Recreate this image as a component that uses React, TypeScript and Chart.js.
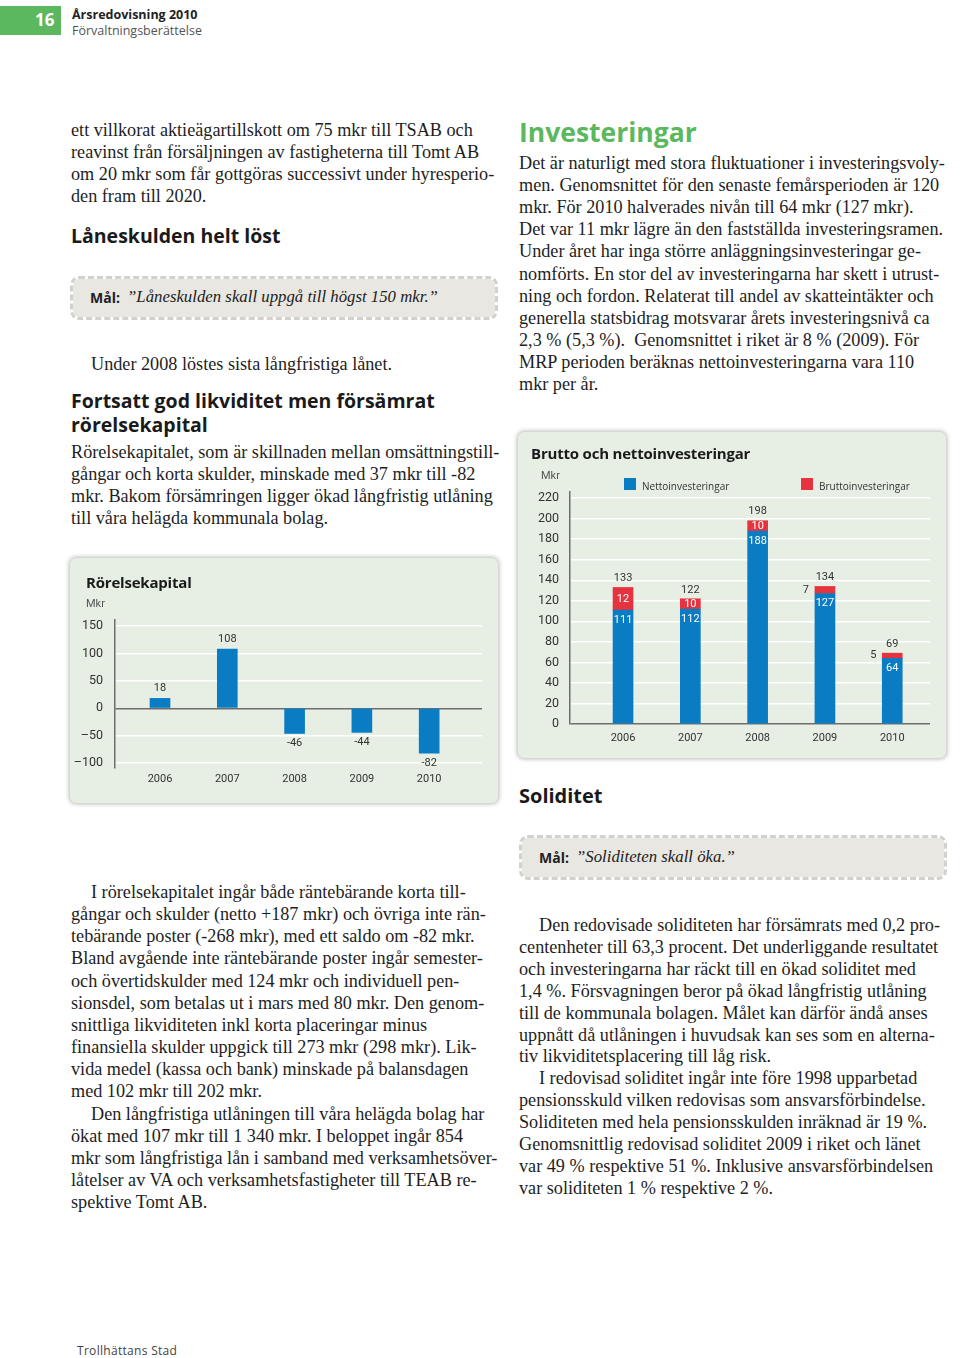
import React, { useEffect, useRef } from "react";
import { Chart, registerables } from "chart.js";

Chart.register(...registerables);

// ---------- data ----------
const years = ["2006", "2007", "2008", "2009", "2010"];

const rorelseValues = [18, 108, -46, -44, -82];
const rorelseTickValues = [150, 100, 50, 0, -50, -100];
const rorelseTickLabels = ["150", "100", "50", "0", "–50", "–100"];

const nettoValues = [111, 112, 188, 127, 64];
const bruttoTotals = [133, 122, 198, 134, 69];
const bruttoDiffLabels = [12, 10, 10, 7, 5];
const investTickValues = [0, 20, 40, 60, 80, 100, 120, 140, 160, 180, 200, 220];

// ---------- styles ----------
const SERIF = "'Liberation Serif', 'Times New Roman', serif";
const SANS = "'Open Sans', 'Noto Sans', sans-serif";
const CHART_FONT = "Roboto, 'Open Sans', sans-serif";
const BLUE = "#0a7cc3";
const RED = "#e5343f";
const GREEN = "#5bb85e";
const PANEL_BG = "#e7efe5";
const AXIS_DARK = "#6e6e6e";
const TEXT_DARK = "#333333";
const BODY_SIZE = 18.2;

const abs = (x: number, y: number, extra: React.CSSProperties = {}): React.CSSProperties => ({
  position: "absolute",
  left: x,
  top: y,
  whiteSpace: "pre",
  ...extra,
});

function TextBlock({ x, y, lines, indent = [], lh = 22 }: { x: number; y: number; lines: string[]; indent?: number[]; lh?: number }) {
  return (
    <>
      {lines.map((t, i) => (
        <div
          key={i}
          style={abs(x + (indent.includes(i) ? 20 : 0), y + i * lh - 11, {
            fontFamily: SERIF,
            fontSize: BODY_SIZE,
            lineHeight: "22px",
            color: "#1e1e1e",
          })}
        >
          {t}
        </div>
      ))}
    </>
  );
}

function Heading({ x, y, lines, size = 19.5, color = "#1a1a1a", lh }: { x: number; y: number; lines: string[]; size?: number; color?: string; lh?: number }) {
  const lineH = lh ?? Math.round(size * 1.2);
  return (
    <div style={abs(x, y - lineH / 2 - 1, { fontFamily: SANS, fontWeight: 700, fontSize: size, lineHeight: `${lineH}px`, color })}>
      {lines.join("\n")}
    </div>
  );
}

function GoalBox({ x, y, w, h, quote }: { x: number; y: number; w: number; h: number; quote: string }) {
  return (
    <div
      style={{
        position: "absolute",
        left: x,
        top: y,
        width: w,
        height: h,
        boxSizing: "border-box",
        border: "3px dashed #d2d1cc",
        borderRadius: 9,
        background: "#e8e7e2",
        backgroundClip: "padding-box",
      }}
    >
      <div style={abs(17, h / 2 - 14, { fontFamily: SANS, fontWeight: 700, fontSize: 14, lineHeight: "22px", color: "#222" })}>Mål:</div>
      <div style={abs(54, h / 2 - 16, { fontFamily: SERIF, fontStyle: "italic", fontSize: 16.8, lineHeight: "24px", color: "#222" })}>{quote}</div>
    </div>
  );
}

// ---------- charts ----------
function RorelseChart() {
  const ref = useRef<HTMLCanvasElement | null>(null);
  useEffect(() => {
    if (!ref.current) return;
    const labelPlugin = {
      id: "rorelseLabels",
      afterDatasetsDraw(chart: any) {
        const ctx = chart.ctx;
        const meta = chart.getDatasetMeta(0);
        ctx.save();
        ctx.font = `11px ${CHART_FONT}`;
        ctx.fillStyle = TEXT_DARK;
        ctx.textAlign = "center";
        ctx.textBaseline = "middle";
        meta.data.forEach((bar: any, i: number) => {
          const v = rorelseValues[i];
          const y = v >= 0 ? bar.y - 10 : bar.y + 10;
          ctx.fillText(String(v), bar.x, y);
        });
        ctx.restore();
      },
    };
    const chart = new Chart(ref.current, {
      type: "bar",
      data: {
        datasets: [
          {
            data: rorelseValues.map((v, i) => ({ x: i, y: v })),
            backgroundColor: BLUE,
            barThickness: 20,
          },
        ],
      },
      options: {
        responsive: false,
        animation: false,
        layout: { padding: { top: 62, right: 16, left: 0, bottom: 0 } },
        plugins: { legend: { display: false }, tooltip: { enabled: false } },
        scales: {
          x: {
            type: "linear",
            offset: false,
            bounds: "data",
            min: -0.669,
            max: 4.785,
            grid: { display: false, drawTicks: false, offset: false },
            border: { display: false },
            afterBuildTicks: (axis: any) => {
              axis.ticks = years.map((_, i) => ({ value: i }));
            },
            afterFit: (scale: any) => {
              scale.height = 35;
            },
            ticks: {
              padding: 5,
              autoSkip: false,
              maxRotation: 0,
              font: { family: CHART_FONT, size: 11 },
              color: TEXT_DARK,
              callback: (v: any) => years[v] ?? "",
            },
          },
          y: {
            type: "linear",
            min: -109,
            max: 161,
            afterBuildTicks: (axis: any) => {
              axis.ticks = rorelseTickValues.map((v) => ({ value: v }));
            },
            afterFit: (scale: any) => {
              scale.width = 45;
            },
            grid: {
              drawTicks: false,
              color: (c: any) => (c.tick && c.tick.value === 0 ? AXIS_DARK : "#ffffff"),
              lineWidth: 1.5,
            },
            border: { display: true, color: AXIS_DARK, width: 1.5 },
            ticks: {
              padding: 12,
              font: { family: CHART_FONT, size: 12.5 },
              color: TEXT_DARK,
              callback: (v: any) => {
                const idx = rorelseTickValues.indexOf(Number(v));
                return idx >= 0 ? rorelseTickLabels[idx] : "";
              },
            },
          },
        },
      },
      plugins: [labelPlugin],
    } as any);
    return () => chart.destroy();
  }, []);
  return <canvas ref={ref} width={428} height={245} style={{ position: "absolute", left: 0, top: 0, width: 428, height: 245 }} />;
}

function InvestChart() {
  const ref = useRef<HTMLCanvasElement | null>(null);
  useEffect(() => {
    if (!ref.current) return;
    const labelPlugin = {
      id: "investLabels",
      afterDatasetsDraw(chart: any) {
        const ctx = chart.ctx;
        const netMeta = chart.getDatasetMeta(0);
        const grossMeta = chart.getDatasetMeta(1);
        ctx.save();
        ctx.font = `11px ${CHART_FONT}`;
        ctx.textAlign = "center";
        ctx.textBaseline = "middle";
        netMeta.data.forEach((bar: any, i: number) => {
          const seg = grossMeta.data[i];
          ctx.fillStyle = "#ffffff";
          ctx.fillText(String(nettoValues[i]), bar.x, bar.y + 10);
          const segH = seg.base - seg.y;
          const segMid = (seg.y + seg.base) / 2;
          if (segH >= 10) {
            ctx.fillStyle = "#ffffff";
            ctx.fillText(String(bruttoDiffLabels[i]), seg.x, segMid);
          } else {
            ctx.fillStyle = TEXT_DARK;
            ctx.fillText(String(bruttoDiffLabels[i]), seg.x - 19, segMid);
          }
          ctx.fillStyle = TEXT_DARK;
          ctx.fillText(String(bruttoTotals[i]), seg.x, seg.y - 9);
        });
        ctx.restore();
      },
    };
    const chart = new Chart(ref.current, {
      type: "bar",
      data: {
        datasets: [
          {
            label: "Nettoinvesteringar",
            data: nettoValues.map((v, i) => ({ x: i, y: v })),
            backgroundColor: BLUE,
            barThickness: 20,
            stack: "s",
          },
          {
            label: "Bruttoinvesteringar",
            data: bruttoTotals.map((t, i) => ({ x: i, y: t - nettoValues[i] })),
            backgroundColor: RED,
            barThickness: 20,
            stack: "s",
          },
        ],
      },
      options: {
        responsive: false,
        animation: false,
        layout: { padding: { top: 60, right: 16, left: 0, bottom: 0 } },
        plugins: { legend: { display: false }, tooltip: { enabled: false } },
        scales: {
          x: {
            type: "linear",
            stacked: true,
            offset: false,
            bounds: "data",
            min: -0.788,
            max: 4.561,
            grid: { display: false, drawTicks: false, offset: false },
            border: { display: false },
            afterBuildTicks: (axis: any) => {
              axis.ticks = years.map((_, i) => ({ value: i }));
            },
            afterFit: (scale: any) => {
              scale.height = 34;
            },
            ticks: {
              padding: 8,
              autoSkip: false,
              maxRotation: 0,
              font: { family: CHART_FONT, size: 11 },
              color: TEXT_DARK,
              callback: (v: any) => years[v] ?? "",
            },
          },
          y: {
            type: "linear",
            stacked: true,
            min: 0,
            max: 226,
            afterBuildTicks: (axis: any) => {
              axis.ticks = investTickValues.map((v) => ({ value: v }));
            },
            afterFit: (scale: any) => {
              scale.width = 52;
            },
            grid: {
              drawTicks: false,
              color: (c: any) => (c.tick && c.tick.value === 0 ? AXIS_DARK : "#ffffff"),
              lineWidth: 1.5,
            },
            border: { display: true, color: AXIS_DARK, width: 1.5 },
            ticks: {
              padding: 11,
              font: { family: CHART_FONT, size: 12.5 },
              color: TEXT_DARK,
              callback: (v: any) => String(v),
            },
          },
        },
      },
      plugins: [labelPlugin],
    } as any);
    return () => chart.destroy();
  }, []);
  return <canvas ref={ref} width={428} height={326} style={{ position: "absolute", left: 0, top: 0, width: 428, height: 326 }} />;
}

const panelStyle = (x: number, y: number, w: number, h: number): React.CSSProperties => ({
  position: "absolute",
  left: x,
  top: y,
  width: w,
  height: h,
  background: PANEL_BG,
  borderRadius: 6,
  boxShadow: "0 0 4px 1px rgba(0,0,0,0.28)",
});

// ---------- text content ----------
const leftPara1 = [
  "ett villkorat aktieägartillskott om 75 mkr till TSAB och",
  "reavinst från försäljningen av fastigheterna till Tomt AB",
  "om 20 mkr som får gottgöras successivt under hyresperio-",
  "den fram till 2020.",
];
const leftPara2 = [
  "Rörelsekapitalet, som är skillnaden mellan omsättningstill-",
  "gångar och korta skulder, minskade med 37 mkr till -82",
  "mkr. Bakom försämringen ligger ökad långfristig utlåning",
  "till våra helägda kommunala bolag.",
];
const leftPara3 = [
  "I rörelsekapitalet ingår både räntebärande korta till-",
  "gångar och skulder (netto +187 mkr) och övriga inte rän-",
  "tebärande poster (-268 mkr), med ett saldo om -82 mkr.",
  "Bland avgående inte räntebärande poster ingår semester-",
  "och övertidskulder med 124 mkr och individuell pen-",
  "sionsdel, som betalas ut i mars med 80 mkr. Den genom-",
  "snittliga likviditeten inkl korta placeringar minus",
  "finansiella skulder uppgick till 273 mkr (298 mkr). Lik-",
  "vida medel (kassa och bank) minskade på balansdagen",
  "med 102 mkr till 202 mkr.",
  "Den långfristiga utlåningen till våra helägda bolag har",
  "ökat med 107 mkr till 1 340 mkr. I beloppet ingår 854",
  "mkr som långfristiga lån i samband med verksamhetsöver-",
  "låtelser av VA och verksamhetsfastigheter till TEAB re-",
  "spektive Tomt AB.",
];
const rightPara1 = [
  "Det är naturligt med stora fluktuationer i investeringsvoly-",
  "men. Genomsnittet för den senaste femårsperioden är 120",
  "mkr. För 2010 halverades nivån till 64 mkr (127 mkr).",
  "Det var 11 mkr lägre än den fastställda investeringsramen.",
  "Under året har inga större anläggningsinvesteringar ge-",
  "nomförts. En stor del av investeringarna har skett i utrust-",
  "ning och fordon. Relaterat till andel av skatteintäkter och",
  "generella statsbidrag motsvarar årets investeringsnivå ca",
  "2,3 % (5,3 %).  Genomsnittet i riket är 8 % (2009). För",
  "MRP perioden beräknas nettoinvesteringarna vara 110",
  "mkr per år.",
];
const rightPara2 = [
  "Den redovisade soliditeten har försämrats med 0,2 pro-",
  "centenheter till 63,3 procent. Det underliggande resultatet",
  "och investeringarna har räckt till en ökad soliditet med",
  "1,4 %. Försvagningen beror på ökad långfristig utlåning",
  "till de kommunala bolagen. Målet kan därför ändå anses",
  "uppnått då utlåningen i huvudsak kan ses som en alterna-",
  "tiv likviditetsplacering till låg risk.",
  "I redovisad soliditet ingår inte före 1998 upparbetad",
  "pensionsskuld vilken redovisas som ansvarsförbindelse.",
  "Soliditeten med hela pensionsskulden inräknad är 19 %.",
  "Genomsnittlig redovisad soliditet 2009 i riket och länet",
  "var 49 % respektive 51 %. Inklusive ansvarsförbindelsen",
  "var soliditeten 1 % respektive 2 %.",
];

export default function App() {
  return (
    <div style={{ position: "absolute", left: 0, top: 0, width: 960, height: 1358, background: "#fff", overflow: "hidden" }}>
      {/* header */}
      <div style={{ position: "absolute", left: 0, top: 6, width: 61, height: 29, background: GREEN }} />
      <div style={abs(35, 8, { fontFamily: SANS, fontWeight: 700, fontSize: 17, lineHeight: "24px", color: "#fff" })}>16</div>
      <div style={abs(72, 6, { fontFamily: SANS, fontWeight: 700, fontSize: 12.5, lineHeight: "18px", color: "#222" })}>Årsredovisning 2010</div>
      <div style={abs(72, 22, { fontFamily: SANS, fontSize: 12.5, lineHeight: "18px", color: "#555" })}>Förvaltningsberättelse</div>

      {/* left column */}
      <TextBlock x={71} y={130} lines={leftPara1} />
      <Heading x={71} y={236} lines={["Låneskulden helt löst"]} />
      <GoalBox x={70} y={276} w={428} h={44} quote="”Låneskulden skall uppgå till högst 150 mkr.”" />
      <TextBlock x={91} y={364} lines={["Under 2008 löstes sista långfristiga lånet."]} />
      <Heading x={71} y={402} lines={["Fortsatt god likviditet men försämrat", "rörelsekapital"]} lh={24} />
      <TextBlock x={71} y={452} lines={leftPara2} />

      <div style={panelStyle(70, 558, 428, 245)}>
        <RorelseChart />
        <div style={abs(16, 13, { fontFamily: SANS, fontWeight: 700, fontSize: 15, lineHeight: "22px", color: "#1a1a1a", letterSpacing: -0.2 })}>Rörelsekapital</div>
        <div style={abs(16, 38, { fontFamily: CHART_FONT, fontSize: 11, lineHeight: "16px", color: "#555" })}>Mkr</div>
      </div>

      <TextBlock x={71} y={892} lines={leftPara3} indent={[0, 10]} lh={22.15} />

      {/* right column */}
      <Heading x={519} y={133} lines={["Investeringar"]} size={26.5} color={GREEN} />
      <TextBlock x={519} y={163} lines={rightPara1} lh={22.1} />

      <div style={panelStyle(518, 432, 428, 326)}>
        <InvestChart />
        <div style={abs(13, 10, { fontFamily: SANS, fontWeight: 700, fontSize: 15, lineHeight: "22px", color: "#1a1a1a", letterSpacing: -0.2 })}>Brutto och nettoinvesteringar</div>
        <div style={abs(23, 36, { fontFamily: CHART_FONT, fontSize: 11, lineHeight: "16px", color: "#555" })}>Mkr</div>
        <div style={{ position: "absolute", left: 106, top: 46, width: 12, height: 12, background: BLUE }} />
        <div style={abs(124, 46, { fontFamily: SANS, fontSize: 10, lineHeight: "16px", color: "#333" })}>Nettoinvesteringar</div>
        <div style={{ position: "absolute", left: 283, top: 46, width: 12, height: 12, background: RED }} />
        <div style={abs(301, 46, { fontFamily: SANS, fontSize: 10, lineHeight: "16px", color: "#333" })}>Bruttoinvesteringar</div>
      </div>

      <Heading x={519} y={797} lines={["Soliditet"]} size={20} />
      <GoalBox x={519} y={835} w={428} h={45} quote="”Soliditeten skall öka.”" />
      <TextBlock x={519} y={925} lines={rightPara2} indent={[0, 7]} lh={21.9} />

      {/* footer */}
      <div style={abs(77, 1344, { fontFamily: SANS, fontSize: 12, lineHeight: "14px", color: "#444", letterSpacing: 0.3 })}>Trollhättans Stad</div>
    </div>
  );
}
